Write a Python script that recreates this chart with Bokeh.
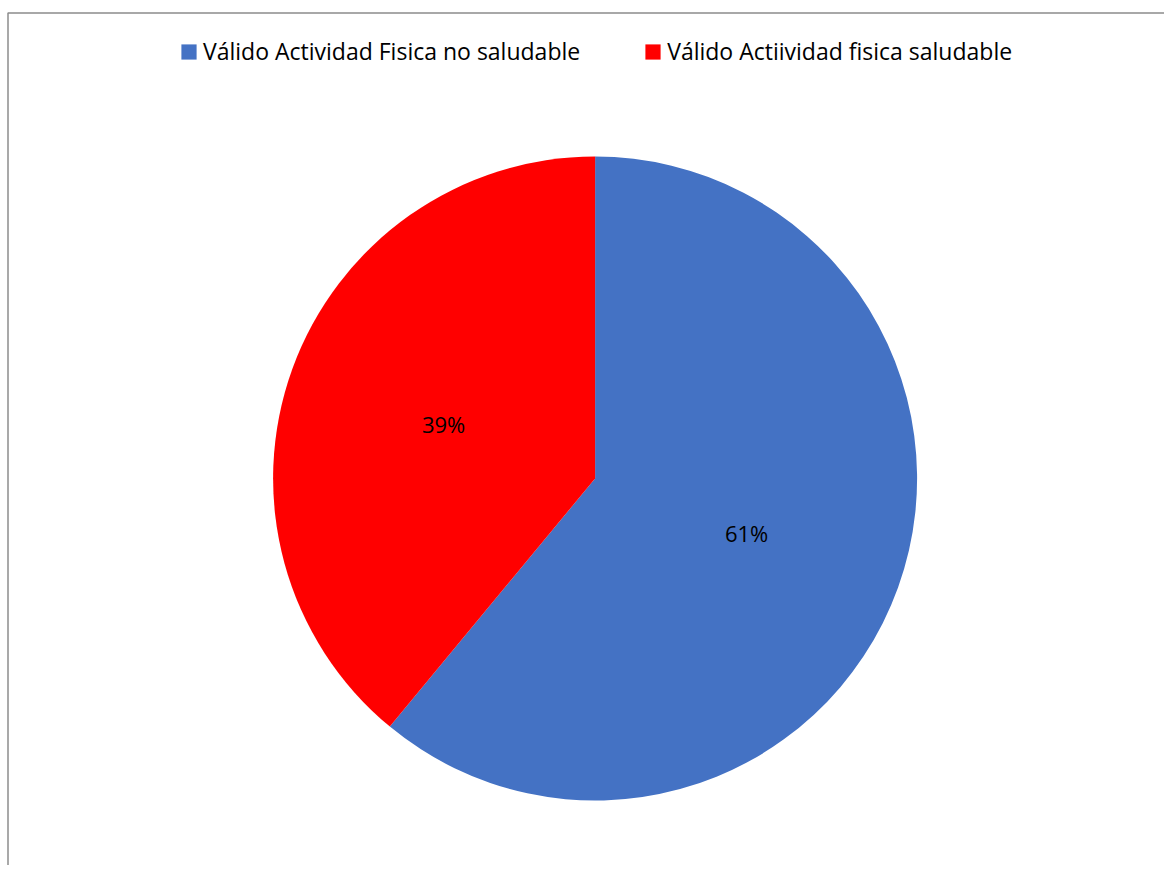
import math
from bokeh.plotting import figure
from bokeh.models import ColumnDataSource, Range1d, BoxAnnotation, Legend, LegendItem
from bokeh.core.properties import value
from bokeh.embed import file_html
from bokeh.resources import INLINE

# ---- data ----
categories = ["Válido Actividad Fisica no saludable", "Válido Actiividad fisica saludable"]
percent = [61, 39]
colors = ["#4472C4", "#FF0000"]

# ---- layout (pixels) ----
W, H = 1164, 865
cx, cy, R = 594.6, 387.0, 322.0
FONT = "Open Sans"

total = sum(percent)
starts, ends, mids = [], [], []
cum = 0.0
for v in percent:
    a0 = math.pi / 2 - 2 * math.pi * cum / total
    cum += v
    a1 = math.pi / 2 - 2 * math.pi * cum / total
    starts.append(a0)
    ends.append(a1)
    mids.append((a0 + a1) / 2)

lab_r = 0.5 * R
src = ColumnDataSource(dict(
    cat=categories, pct=percent, color=colors,
    start=starts, end=ends,
    x=[cx] * len(percent), y=[cy] * len(percent),
    lx=[cx + lab_r * math.cos(m) for m in mids],
    ly=[cy + lab_r * math.sin(m) for m in mids],
    label=[f"{v}%" for v in percent],
))

p = figure(width=W, height=H, output_backend="svg", toolbar_location=None,
           x_range=Range1d(0, W), y_range=Range1d(0, H), min_border=0)
p.axis.visible = False
p.grid.visible = False
p.outline_line_color = None
p.background_fill_color = "white"
p.border_fill_color = "white"

r = p.wedge(x="x", y="y", radius=R, start_angle="start", end_angle="end",
            direction="clock", fill_color="color", line_color=None, source=src)

p.text(x="lx", y="ly", text="label", source=src, text_align="center",
       text_baseline="middle", text_font=value(FONT), text_font_size="22px",
       text_color="#000000")

# chart-area border (only left and top edges fall inside the window)
p.add_layout(BoxAnnotation(left=7.5, top=H - 12.5, right=W + 10, bottom=-10,
                           fill_alpha=0, line_color="#8c8c8c", line_alpha=1.0,
                           line_width=1.5))

items = [LegendItem(label=c, renderers=[r], index=i) for i, c in enumerate(categories)]
legend = Legend(items=items, orientation="horizontal", location=(179, 798),
                glyph_width=19, glyph_height=19, label_standoff=5, spacing=63,
                padding=0, margin=0, border_line_color=None,
                background_fill_alpha=0, label_text_font=FONT,
                label_text_font_size="23px", label_text_color="#000000")
p.add_layout(legend)

open("out.html", "w").write(file_html(p, INLINE))
